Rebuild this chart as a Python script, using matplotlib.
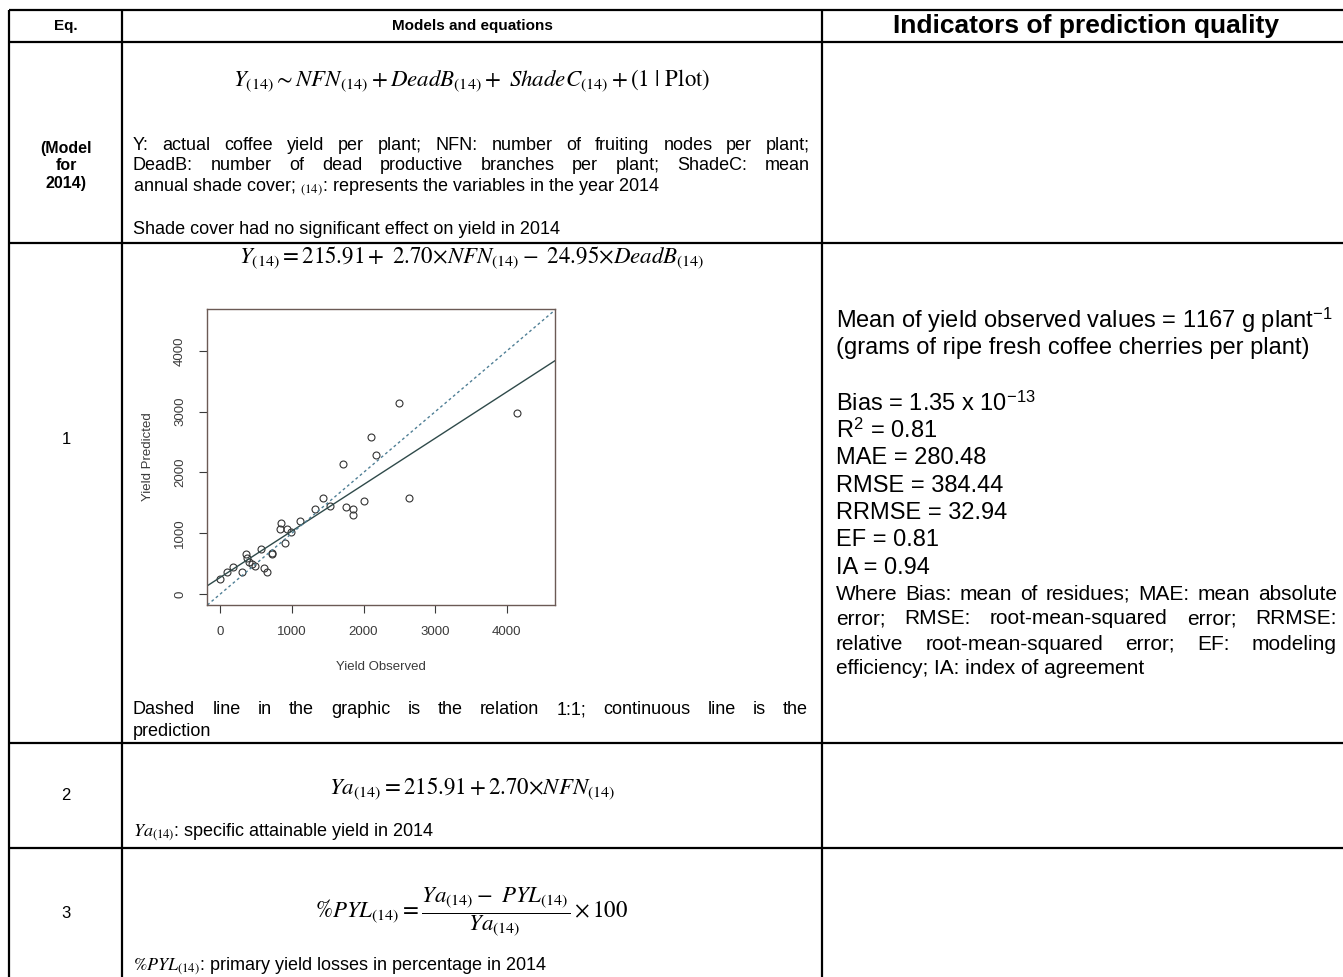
import matplotlib.pyplot as plt

plt.rcParams['mathtext.fontset'] = 'stix'
plt.rcParams['font.family'] = ['Liberation Sans', 'DejaVu Sans']

W, H = 1343, 977

# observed vs predicted yield
yield_observed = [0, 90, 177, 302, 363, 372, 400, 437, 480, 575, 607, 651, 716, 726,
                  830, 845, 905, 930, 983, 1110, 1316, 1435, 1537, 1718, 1755, 1850,
                  1858, 2007, 2107, 2172, 2493, 2642, 4144]
yield_predicted = [240, 355, 452, 368, 665, 590, 530, 500, 465, 745, 430, 368, 660, 680,
                   1068, 1166, 845, 1078, 1026, 1198, 1399, 1578, 1450, 2134, 1437, 1300,
                   1399, 1533, 2590, 2282, 3144, 1575, 2985]
fit_intercept = 274
fit_slope = 0.763
obs_ticks = [0, 1000, 2000, 3000, 4000]
pred_ticks = [0, 1000, 2000, 3000, 4000]

header = ["Eq.", "Models and equations", "Indicators of prediction quality"]
eq_labels = ["(Model\nfor\n2014)", "1", "2", "3"]
indicators = [r"Bias = 1.35 x 10$^{\mathregular{-13}}$",
              r"R$^{\mathregular{2}}$ = 0.81",
              "MAE = 280.48",
              "RMSE = 384.44",
              "RRMSE = 32.94",
              "EF = 0.81",
              "IA = 0.94"]
indicator_notes = ["Where Bias: mean of residues; MAE: mean absolute",
                   "error; RMSE: root-mean-squared error; RRMSE:",
                   "relative root-mean-squared error; EF: modeling",
                   "efficiency; IA: index of agreement"]

fig = plt.figure(figsize=(W / 100, H / 100), dpi=100)
ax = fig.add_axes([0, 0, 1, 1])
ax.set_xlim(0, W)
ax.set_ylim(H, 0)
ax.axis('off')
renderer = fig.canvas.get_renderer()


def justified(text, x0, x1, y, size):
    # spread the words so the line fills x0..x1, like a justified paragraph
    words = text.split(' ')
    arts = [ax.text(0, y, w, fontsize=size, va='center', ha='left') for w in words]
    widths = [a.get_window_extent(renderer=renderer).width for a in arts]
    gap = (x1 - x0 - sum(widths)) / (len(words) - 1)
    x = x0
    for a, w in zip(arts, widths):
        a.set_x(x)
        x += w + gap


# table grid
lw = 1.6
for y in [10, 42, 243, 743, 848]:
    ax.plot([9, W], [y, y], color='black', lw=lw, solid_capstyle='butt')
for x in [9, 122, 822]:
    ax.plot([x, x], [10, H], color='black', lw=lw, solid_capstyle='butt')

# header
ax.text(66, 26, header[0], fontsize=11, weight='bold', ha='center', va='center')
ax.text(472, 26, header[1], fontsize=11, weight='bold', ha='center', va='center')
ax.text(1086, 26, header[2], fontsize=19, weight='bold', ha='center', va='center')

# first column
ax.text(66, 166, eq_labels[0], fontsize=11.5, weight='bold', ha='center', va='center',
        linespacing=1.2)
ax.text(66, 440, eq_labels[1], fontsize=12, ha='center', va='center')
ax.text(66, 796, eq_labels[2], fontsize=12, ha='center', va='center')
ax.text(66, 914, eq_labels[3], fontsize=12, ha='center', va='center')

eq = 16.5
body = 13

# model row
ax.text(472, 80, r"$Y_{\mathrm{(14)}} \sim NFN_{\mathrm{(14)}} + DeadB_{\mathrm{(14)}} +\ ShadeC_{\mathrm{(14)}} + (1\ |\ \mathrm{Plot})$",
        fontsize=eq, ha='center', va='center')
justified("Y: actual coffee yield per plant; NFN: number of fruiting nodes per plant;", 133, 810, 145, body)
justified("DeadB: number of dead productive branches per plant; ShadeC: mean", 133, 810, 166, body)
ax.text(133, 187, r"annual shade cover; $_{\mathrm{(14)}}$: represents the variables in the year 2014",
        fontsize=body, va='center')
ax.text(133, 229, "Shade cover had no significant effect on yield in 2014", fontsize=body, va='center')

# equation 1 and its plot
ax.text(472, 257, r"$Y_{\mathrm{(14)}} = 215.91 +\ 2.70{\times}NFN_{\mathrm{(14)}} -\ 24.95{\times}DeadB_{\mathrm{(14)}}$",
        fontsize=eq, ha='center', va='center')
justified("Dashed line in the graphic is the relation 1:1; continuous line is the", 133, 808, 710, body)
ax.text(133, 731, "prediction", fontsize=body, va='center')

# equation 2
ax.text(472, 788, r"$Ya_{\mathrm{(14)}} = 215.91 + 2.70{\times}NFN_{\mathrm{(14)}}$",
        fontsize=eq, ha='center', va='center')
ax.text(133, 832, r"$Ya_{\mathrm{(14)}}$: specific attainable yield in 2014", fontsize=body, va='center')

# equation 3
ax.text(472, 912, r"$\%PYL_{\mathrm{(14)}} = \dfrac{Ya_{\mathrm{(14)}} -\ PYL_{\mathrm{(14)}}}{Ya_{\mathrm{(14)}}} \times 100$",
        fontsize=eq, ha='center', va='center')
ax.text(133, 966, r"$\%PYL_{\mathrm{(14)}}$: primary yield losses in percentage in 2014", fontsize=body, va='center')

# indicators column
big = 17
ax.text(836, 320, r"Mean of yield observed values = 1167 g plant$^{\mathregular{-1}}$", fontsize=big, va='center')
ax.text(836, 348, "(grams of ripe fresh coffee cherries per plant)", fontsize=big, va='center')
for i, s in enumerate(indicators):
    ax.text(836, 403 + i * 27.5, s, fontsize=big, va='center')
for i, s in enumerate(indicator_notes):
    if i < len(indicator_notes) - 1:
        justified(s, 836, 1337, 594 + i * 25, 15)
    else:
        ax.text(836, 594 + i * 25, s, fontsize=15, va='center')

# embedded observed vs predicted plot
pax = fig.add_axes([207 / W, 1 - 605 / H, 348 / W, 296 / H])
pax.set_xlim(-186, 4674)
pax.set_ylim(-181, 4691)
pax.plot(yield_observed, yield_predicted, 'o', mfc='none', mec='#333333', ms=5, mew=0.8)
pax.axline((0, fit_intercept), slope=fit_slope, color='#2f4a4a', lw=1)
pax.axline((0, 0), slope=1, color='#4f7f95', lw=1, ls=(0, (2, 2)))
pax.set_xticks(obs_ticks)
pax.set_yticks(pred_ticks)
pax.set_yticklabels([str(t) for t in pred_ticks], rotation=90, va='center')
pax.tick_params(direction='out', length=6, width=0.8, colors='#3a3a3a', labelsize=9.5, pad=9)
for s in pax.spines.values():
    s.set_color('#6b5a55')
    s.set_linewidth(1)
pax.text(0.5, -0.209, "Yield Observed", transform=pax.transAxes, ha='center', va='center',
         fontsize=9.5, color='#3a3a3a')
pax.text(-0.17, 0.5, "Yield Predicted", transform=pax.transAxes, ha='center', va='center',
         rotation=90, fontsize=9.5, color='#3a3a3a')

fig.savefig('out.png', dpi=100)
